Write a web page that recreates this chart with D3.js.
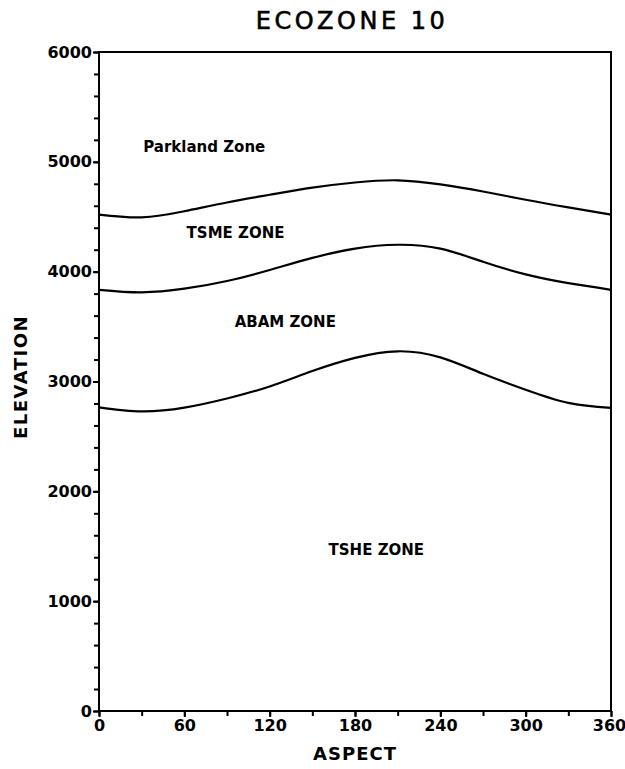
<!DOCTYPE html>
<html lang="en">
<head>
<meta charset="UTF-8">
<title>Ecozone 10</title>
<script src="https://d3js.org/d3.v7.min.js"></script>
<style>
  body { margin: 0; background: #fff; }
  svg text { font-family: "DejaVu Sans", sans-serif; fill: #000; }
</style>
</head>
<body>
<script>
// aspect (degrees) at which the zone boundaries were read
const aspects = [0, 30, 60, 90, 120, 150, 180, 210, 240, 270, 300, 330, 360];
// boundary elevations
const parklandTsme = [4520, 4495, 4550, 4630, 4700, 4765, 4812, 4832, 4795, 4730, 4655, 4585, 4520];
const tsmeAbam     = [3835, 3812, 3845, 3915, 4015, 4125, 4210, 4245, 4210, 4090, 3975, 3895, 3835];
const abamTshe     = [2765, 2728, 2762, 2845, 2955, 3095, 3215, 3275, 3220, 3070, 2925, 2805, 2760];

const xTicks = [0, 60, 120, 180, 240, 300, 360];
const xMinor = d3.range(0, 361, 30);
const yTicks = [0, 1000, 2000, 3000, 4000, 5000, 6000];
const yMinor = d3.range(0, 6001, 200);

const zoneNames  = ['Parkland Zone', 'TSME ZONE', 'ABAM ZONE', 'TSHE ZONE'];
const zoneAspect = [74, 96, 131, 195];
const zoneElev   = [5135, 4350, 3540, 1466];

const w = 625, h = 769;
const pL = 99, pR = 611, pT = 52, pB = 711;

const svg = d3.select('body').append('svg')
    .attr('width', w)
    .attr('height', h);

const x = d3.scaleLinear().domain([0, 360]).range([pL, pR]);
const y = d3.scaleLinear().domain([0, 6000]).range([pB, pT]);

// title
svg.append('text')
    .attr('x', 352)
    .attr('y', 21)
    .attr('text-anchor', 'middle')
    .attr('dominant-baseline', 'central')
    .style('font-size', '24px')
    .style('letter-spacing', '3.5px')
    .style('stroke', '#000')
    .style('stroke-width', '0.6px')
    .text('ECOZONE 10');

// minor ticks
svg.append('g')
    .attr('transform', 'translate(0,' + pB + ')')
    .call(d3.axisBottom(x).tickValues(xMinor).tickSize(5).tickFormat(''))
    .call(g => g.select('.domain').remove())
    .selectAll('line').attr('stroke-width', 2);
svg.append('g')
    .attr('transform', 'translate(' + pL + ',0)')
    .call(d3.axisLeft(y).tickValues(yMinor).tickSize(5).tickFormat(''))
    .call(g => g.select('.domain').remove())
    .selectAll('line').attr('stroke-width', 2);

// major ticks + labels
const xAxis = svg.append('g')
    .attr('transform', 'translate(0,' + pB + ')')
    .call(d3.axisBottom(x).tickValues(xTicks).tickSize(6).tickPadding(3).tickFormat(d3.format('d')));
xAxis.select('.domain').remove();
xAxis.selectAll('line').attr('stroke-width', 2);
xAxis.selectAll('text')
    .style('font-size', '16px')
    .style('font-weight', 'bold')
    .attr('dx', d => d === 360 ? -2 : 0);

const yAxis = svg.append('g')
    .attr('transform', 'translate(' + pL + ',0)')
    .call(d3.axisLeft(y).tickValues(yTicks).tickSize(6).tickPadding(1).tickFormat(d3.format('d')));
yAxis.select('.domain').remove();
yAxis.selectAll('line').attr('stroke-width', 2);
yAxis.selectAll('text').style('font-size', '16px').style('font-weight', 'bold');

// frame
svg.append('rect')
    .attr('x', pL)
    .attr('y', pT)
    .attr('width', pR - pL)
    .attr('height', pB - pT)
    .attr('fill', 'none')
    .attr('stroke', '#000')
    .attr('stroke-width', 2);

// boundaries
const line = d3.line()
    .x((d, i) => x(aspects[i]))
    .y(d => y(d))
    .curve(d3.curveNatural);

svg.selectAll('.boundary')
    .data([parklandTsme, tsmeAbam, abamTshe])
    .enter()
    .append('path')
    .attr('class', 'boundary')
    .attr('d', line)
    .attr('fill', 'none')
    .attr('stroke', '#000')
    .attr('stroke-width', 2.2);

// zone labels
svg.selectAll('.zone')
    .data(zoneNames)
    .enter()
    .append('text')
    .attr('class', 'zone')
    .attr('x', (d, i) => x(zoneAspect[i]))
    .attr('y', (d, i) => y(zoneElev[i]))
    .attr('text-anchor', 'middle')
    .attr('dominant-baseline', 'central')
    .style('font-size', '15px')
    .style('font-weight', 'bold')
    .text(d => d);

// axis titles
svg.append('text')
    .attr('x', (pL + pR) / 2)
    .attr('y', 753)
    .attr('text-anchor', 'middle')
    .attr('dominant-baseline', 'central')
    .style('font-size', '18px')
    .style('font-weight', 'bold')
    .style('letter-spacing', '1px')
    .text('ASPECT');

svg.append('text')
    .attr('transform', 'translate(20,' + 377 + ') rotate(-90)')
    .attr('text-anchor', 'middle')
    .attr('dominant-baseline', 'central')
    .style('font-size', '18px')
    .style('font-weight', 'bold')
    .style('letter-spacing', '1.5px')
    .text('ELEVATION');
</script>
</body>
</html>
